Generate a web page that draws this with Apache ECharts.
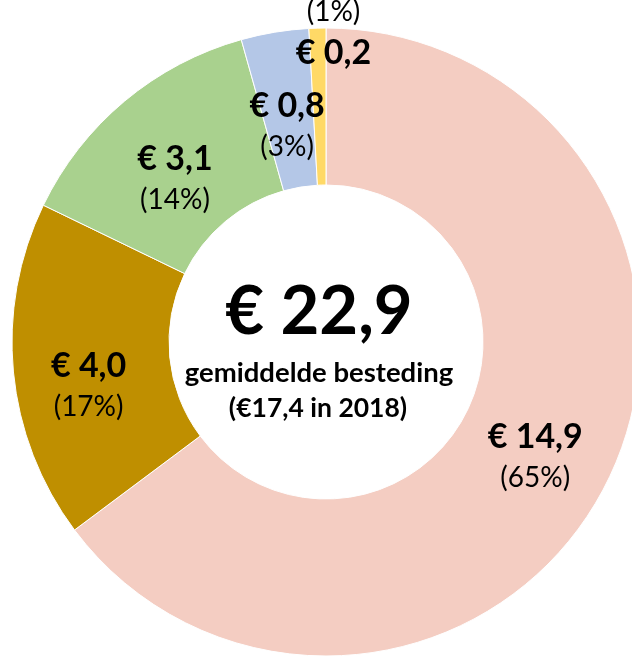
<!DOCTYPE html>
<html>
<head>
<meta charset="utf-8">
<script src="https://cdn.jsdelivr.net/npm/echarts@6/dist/echarts.min.js"></script>
<style>
  html, body { margin: 0; padding: 0; background: #ffffff; }
  #chart { width: 632px; height: 656px; }
</style>
</head>
<body>
<div id="chart"></div>
<script>
// Spending categories (euro), clockwise from 12 o'clock
const categories = ['A', 'B', 'C', 'D', 'E'];
const amounts = [14.9, 4.0, 3.1, 0.8, 0.2];
const totalSpend = 22.9;
const previousSpend = 17.4;
const previousYear = 2018;
const subtitle = 'gemiddelde besteding';

const colors = ['#F4CDC2', '#BF8F00', '#A9D18E', '#B4C7E7', '#FFD966'];
// label nudges relative to the slice midpoint
const labelOffsets = [[-4, 7], [0, 20], [2, 19], [0, 18], [14, -70]];

const euro = v => '€ ' + v.toFixed(1).replace('.', ',');
const pct = v => '(' + Math.round(v / totalSpend * 100) + '%)';

const data = amounts.map((v, i) => ({
  name: categories[i],
  value: v,
  itemStyle: { color: colors[i] },
  label: {
    offset: labelOffsets[i],
    formatter: i === 4
      ? '{p|' + pct(v) + '}\n{v|' + euro(v) + '}'
      : '{v|' + euro(v) + '}\n{p|' + pct(v) + '}'
  }
}));

const chart = echarts.init(document.getElementById('chart'), null, { renderer: 'canvas' });
chart.setOption({
  animation: false,
  backgroundColor: '#ffffff',
  series: [{
    type: 'pie',
    center: [326, 342],
    radius: [157, 314],
    startAngle: 90,
    clockwise: true,
    avoidLabelOverlap: false,
    itemStyle: { borderColor: '#ffffff', borderWidth: 1 },
    label: {
      show: true,
      position: 'inside',
      fontFamily: 'Lato',
      color: '#000000',
      rich: {
        v: { fontFamily: 'Lato', fontWeight: 'bold', fontSize: 34, color: '#000', lineHeight: 44 },
        p: { fontFamily: 'Lato', fontSize: 28, color: '#000', lineHeight: 38 }
      }
    },
    labelLine: { show: false },
    emphasis: { disabled: true },
    data: data
  }],
  graphic: [{
    type: 'text',
    style: {
      x: 319,
      y: 312,
      text: euro(totalSpend),
      fontFamily: 'Lato',
      fontWeight: 'bold',
      fontSize: 67,
      fill: '#000',
      align: 'center',
      verticalAlign: 'middle'
    }
  }, {
    type: 'text',
    style: {
      x: 319,
      y: 373,
      text: subtitle,
      fontFamily: 'Lato',
      fontWeight: 'bold',
      fontSize: 27.5,
      fill: '#000',
      align: 'center',
      verticalAlign: 'middle'
    }
  }, {
    type: 'text',
    style: {
      x: 318,
      y: 408,
      text: '(€' + previousSpend.toFixed(1).replace('.', ',') + ' in ' + previousYear + ')',
      fontFamily: 'Lato',
      fontWeight: 'bold',
      fontSize: 26.5,
      fill: '#000',
      align: 'center',
      verticalAlign: 'middle'
    }
  }]
});
</script>
</body>
</html>
